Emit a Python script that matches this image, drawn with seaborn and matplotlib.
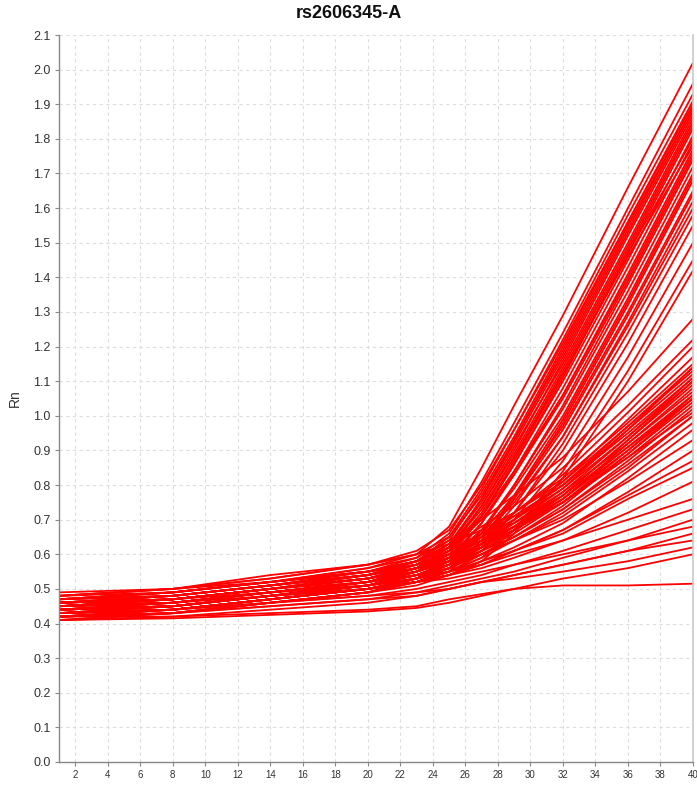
import matplotlib
matplotlib.use("Agg")
import matplotlib.pyplot as plt
import seaborn as sns
import pandas as pd
import numpy as np

# Amplification cycles at which the curve values were read
cycles = [1, 8, 14, 20, 23, 25, 27, 29, 32, 36, 40]

# Early-amplifying wells (upper fan)
upper_curves = [
    [0.47, 0.49, 0.52, 0.56, 0.60, 0.68, 0.85, 1.03, 1.29, 1.66, 2.02],
    [0.46, 0.48, 0.51, 0.55, 0.59, 0.66, 0.81, 0.98, 1.24, 1.60, 1.96],
    [0.45, 0.47, 0.50, 0.54, 0.58, 0.65, 0.79, 0.96, 1.22, 1.58, 1.93],
    [0.48, 0.50, 0.53, 0.57, 0.61, 0.67, 0.80, 0.96, 1.21, 1.56, 1.90],
    [0.44, 0.46, 0.49, 0.52, 0.56, 0.62, 0.76, 0.93, 1.19, 1.55, 1.89],
    [0.46, 0.47, 0.50, 0.53, 0.57, 0.63, 0.76, 0.92, 1.17, 1.53, 1.88],
    [0.43, 0.45, 0.48, 0.51, 0.55, 0.61, 0.74, 0.90, 1.16, 1.52, 1.87],
    [0.47, 0.48, 0.51, 0.54, 0.58, 0.63, 0.75, 0.91, 1.15, 1.50, 1.86],
    [0.45, 0.46, 0.49, 0.52, 0.56, 0.61, 0.72, 0.88, 1.13, 1.48, 1.84],
    [0.44, 0.45, 0.48, 0.51, 0.55, 0.60, 0.71, 0.86, 1.11, 1.47, 1.83],
    [0.46, 0.47, 0.50, 0.53, 0.57, 0.61, 0.71, 0.86, 1.10, 1.45, 1.81],
    [0.42, 0.44, 0.47, 0.50, 0.53, 0.58, 0.69, 0.84, 1.08, 1.43, 1.79],
    [0.45, 0.46, 0.49, 0.52, 0.55, 0.59, 0.69, 0.83, 1.06, 1.41, 1.77],
    [0.47, 0.49, 0.52, 0.55, 0.58, 0.62, 0.71, 0.84, 1.06, 1.40, 1.76],
    [0.43, 0.44, 0.47, 0.50, 0.53, 0.57, 0.66, 0.80, 1.03, 1.38, 1.74],
    [0.44, 0.46, 0.49, 0.52, 0.55, 0.58, 0.67, 0.80, 1.02, 1.36, 1.72],
    [0.46, 0.47, 0.50, 0.53, 0.56, 0.59, 0.67, 0.79, 1.00, 1.34, 1.70],
    [0.42, 0.43, 0.46, 0.49, 0.52, 0.55, 0.63, 0.76, 0.98, 1.32, 1.68],
    [0.45, 0.47, 0.50, 0.53, 0.56, 0.59, 0.66, 0.77, 0.97, 1.30, 1.65],
    [0.44, 0.45, 0.48, 0.51, 0.54, 0.57, 0.63, 0.74, 0.94, 1.27, 1.62],
    [0.43, 0.45, 0.48, 0.51, 0.54, 0.56, 0.62, 0.72, 0.92, 1.24, 1.58],
    [0.46, 0.47, 0.50, 0.53, 0.55, 0.58, 0.63, 0.72, 0.90, 1.21, 1.55],
    [0.44, 0.45, 0.48, 0.51, 0.53, 0.56, 0.61, 0.70, 0.87, 1.17, 1.50],
    [0.42, 0.44, 0.47, 0.50, 0.52, 0.55, 0.59, 0.67, 0.84, 1.13, 1.45],
    [0.43, 0.44, 0.47, 0.50, 0.52, 0.54, 0.58, 0.66, 0.82, 1.10, 1.42],
    [0.48, 0.50, 0.54, 0.57, 0.60, 0.65, 0.77, 0.93, 1.18, 1.54, 1.89],
    [0.41, 0.43, 0.46, 0.49, 0.53, 0.59, 0.71, 0.87, 1.12, 1.47, 1.80],
    [0.47, 0.49, 0.52, 0.55, 0.58, 0.62, 0.73, 0.88, 1.12, 1.46, 1.78],
    [0.45, 0.47, 0.50, 0.54, 0.58, 0.64, 0.78, 0.94, 1.20, 1.56, 1.91],
    [0.44, 0.45, 0.48, 0.52, 0.56, 0.62, 0.74, 0.89, 1.14, 1.49, 1.85],
    [0.46, 0.48, 0.51, 0.54, 0.57, 0.61, 0.70, 0.83, 1.05, 1.39, 1.75],
    [0.43, 0.44, 0.47, 0.50, 0.53, 0.56, 0.64, 0.77, 0.99, 1.33, 1.69],
    [0.45, 0.46, 0.49, 0.52, 0.55, 0.58, 0.65, 0.76, 0.96, 1.29, 1.64],
    [0.47, 0.48, 0.51, 0.54, 0.56, 0.59, 0.65, 0.75, 0.94, 1.26, 1.60],
]

# Later / weaker amplifying wells (lower fan)
lower_curves = [
    [0.47, 0.49, 0.52, 0.56, 0.59, 0.64, 0.70, 0.77, 0.88, 1.07, 1.28],
    [0.45, 0.47, 0.50, 0.53, 0.56, 0.60, 0.66, 0.72, 0.83, 1.01, 1.20],
    [0.44, 0.46, 0.49, 0.52, 0.55, 0.59, 0.64, 0.70, 0.81, 0.99, 1.17],
    [0.46, 0.48, 0.51, 0.54, 0.57, 0.61, 0.66, 0.72, 0.82, 0.98, 1.15],
    [0.43, 0.45, 0.48, 0.51, 0.54, 0.58, 0.63, 0.69, 0.79, 0.96, 1.14],
    [0.45, 0.47, 0.50, 0.53, 0.56, 0.60, 0.65, 0.71, 0.80, 0.96, 1.12],
    [0.42, 0.44, 0.47, 0.50, 0.53, 0.57, 0.62, 0.68, 0.78, 0.94, 1.11],
    [0.46, 0.48, 0.51, 0.54, 0.57, 0.60, 0.65, 0.70, 0.79, 0.94, 1.10],
    [0.44, 0.45, 0.48, 0.51, 0.54, 0.57, 0.62, 0.68, 0.77, 0.93, 1.09],
    [0.43, 0.45, 0.48, 0.51, 0.54, 0.57, 0.61, 0.67, 0.76, 0.92, 1.08],
    [0.47, 0.48, 0.51, 0.54, 0.57, 0.60, 0.64, 0.69, 0.78, 0.92, 1.07],
    [0.45, 0.46, 0.49, 0.52, 0.55, 0.58, 0.62, 0.67, 0.76, 0.91, 1.06],
    [0.42, 0.43, 0.46, 0.49, 0.52, 0.55, 0.60, 0.65, 0.74, 0.89, 1.05],
    [0.44, 0.46, 0.49, 0.52, 0.55, 0.58, 0.62, 0.67, 0.75, 0.89, 1.04],
    [0.46, 0.47, 0.50, 0.53, 0.56, 0.59, 0.63, 0.67, 0.75, 0.88, 1.03],
    [0.43, 0.44, 0.47, 0.50, 0.53, 0.56, 0.60, 0.65, 0.73, 0.87, 1.02],
    [0.45, 0.46, 0.49, 0.52, 0.54, 0.57, 0.61, 0.65, 0.73, 0.86, 1.00],
    [0.44, 0.45, 0.48, 0.51, 0.53, 0.56, 0.60, 0.64, 0.71, 0.84, 0.98],
    [0.42, 0.43, 0.46, 0.49, 0.51, 0.54, 0.58, 0.62, 0.69, 0.82, 0.96],
    [0.46, 0.47, 0.50, 0.52, 0.54, 0.57, 0.60, 0.64, 0.70, 0.81, 0.93],
    [0.43, 0.44, 0.47, 0.50, 0.52, 0.54, 0.57, 0.61, 0.67, 0.78, 0.90],
    [0.45, 0.46, 0.49, 0.51, 0.53, 0.55, 0.58, 0.61, 0.67, 0.77, 0.87],
    [0.44, 0.45, 0.48, 0.50, 0.52, 0.54, 0.56, 0.59, 0.64, 0.72, 0.81],
    [0.43, 0.44, 0.46, 0.48, 0.50, 0.52, 0.54, 0.57, 0.61, 0.67, 0.73],
    [0.42, 0.43, 0.45, 0.47, 0.49, 0.51, 0.53, 0.55, 0.59, 0.64, 0.70],
    [0.45, 0.46, 0.48, 0.50, 0.52, 0.53, 0.55, 0.57, 0.60, 0.64, 0.68],
    [0.41, 0.42, 0.44, 0.46, 0.48, 0.50, 0.52, 0.54, 0.57, 0.61, 0.66],
    [0.43, 0.44, 0.46, 0.48, 0.49, 0.50, 0.52, 0.53, 0.55, 0.58, 0.62],
    [0.41, 0.415, 0.425, 0.435, 0.445, 0.46, 0.48, 0.50, 0.53, 0.56, 0.60],
    [0.42, 0.42, 0.43, 0.44, 0.45, 0.47, 0.485, 0.50, 0.51, 0.51, 0.515],
    [0.48, 0.50, 0.53, 0.57, 0.60, 0.63, 0.67, 0.72, 0.81, 0.97, 1.13],
    [0.41, 0.43, 0.46, 0.49, 0.52, 0.56, 0.61, 0.67, 0.77, 0.93, 1.10],
    [0.46, 0.48, 0.51, 0.55, 0.58, 0.62, 0.68, 0.74, 0.85, 1.03, 1.22],
    [0.44, 0.46, 0.49, 0.52, 0.55, 0.59, 0.64, 0.70, 0.80, 0.97, 1.14],
    [0.47, 0.49, 0.52, 0.55, 0.58, 0.61, 0.66, 0.71, 0.80, 0.95, 1.11],
    [0.43, 0.44, 0.47, 0.50, 0.53, 0.56, 0.61, 0.66, 0.75, 0.90, 1.06],
    [0.45, 0.47, 0.50, 0.53, 0.56, 0.59, 0.63, 0.68, 0.76, 0.90, 1.05],
    [0.42, 0.44, 0.47, 0.50, 0.52, 0.55, 0.59, 0.64, 0.72, 0.85, 1.00],
    [0.44, 0.45, 0.48, 0.50, 0.52, 0.54, 0.57, 0.61, 0.66, 0.76, 0.85],
    [0.46, 0.47, 0.49, 0.51, 0.53, 0.55, 0.57, 0.60, 0.64, 0.70, 0.76],
    [0.42, 0.43, 0.45, 0.47, 0.48, 0.50, 0.52, 0.54, 0.57, 0.61, 0.64],
    [0.48, 0.49, 0.52, 0.55, 0.57, 0.60, 0.64, 0.69, 0.77, 0.91, 1.05],
    [0.49, 0.50, 0.52, 0.55, 0.57, 0.60, 0.64, 0.68, 0.75, 0.88, 1.01],
]

title = "rs2606345-A"
y_label = "Rn"
x_ticks = list(range(2, 41, 2))
y_ticks = [round(0.1 * i, 1) for i in range(0, 22)]

rows = []
for w, curve in enumerate(upper_curves + lower_curves):
    for c, v in zip(cycles, curve):
        rows.append({"well": w, "cycle": c, "Rn": v})
df = pd.DataFrame(rows)

sns.set_theme(style="white")
plt.rcParams["font.family"] = ["Liberation Sans", "DejaVu Sans"]

fig = plt.figure(figsize=(6.97, 7.87), dpi=100)
ax = fig.add_axes([59 / 697, 25 / 787, 634 / 697, 727 / 787])

sns.lineplot(data=df, x="cycle", y="Rn", units="well", estimator=None,
             color="#ff0000", linewidth=1.3, ax=ax, legend=False)

ax.set_xlim(1, 40)
ax.set_ylim(0, 2.1)
ax.set_xticks(x_ticks)
ax.set_yticks(y_ticks)
ax.set_xticklabels([str(t) for t in x_ticks], fontsize=7, color="#333333")
ax.set_yticklabels([f"{t:.1f}" for t in y_ticks], fontsize=9, color="#333333")
ax.grid(True, color="#dddddd", linestyle=(0, (3, 3)), linewidth=0.8)
ax.set_axisbelow(True)
ax.tick_params(axis="both", which="major", length=3, width=0.8, color="#888888",
               direction="out", left=True, bottom=True, pad=3)
for side in ["left", "bottom"]:
    ax.spines[side].set_color("#888888")
    ax.spines[side].set_linewidth(1.0)
ax.spines["top"].set_visible(False)
ax.spines["right"].set_color("#cccccc")
ax.set_xlabel("")
ax.set_ylabel(y_label, fontsize=10, color="#333333", labelpad=8)
fig.text(0.5, 1 - 14 / 787, title, ha="center", va="center",
         fontsize=13, fontweight="bold", color="#111111")

fig.savefig("out.png", dpi=100)
